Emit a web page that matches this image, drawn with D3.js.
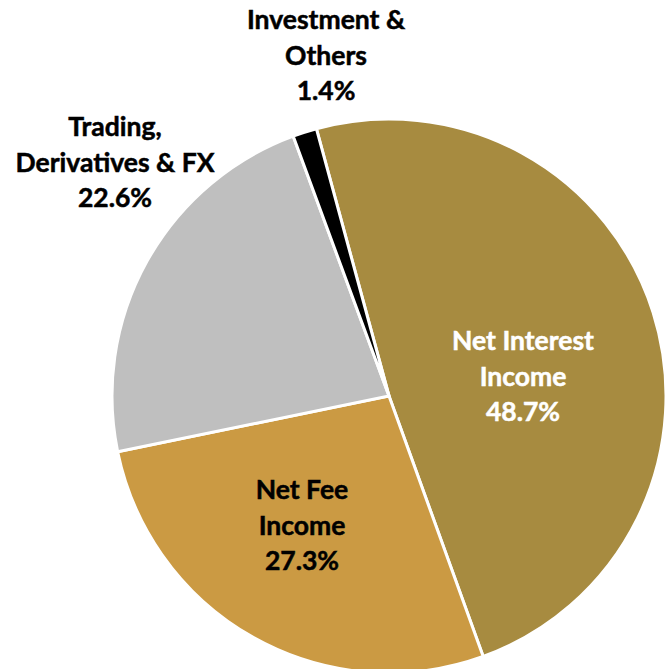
<!DOCTYPE html>
<html>
<head>
<meta charset="utf-8">
<script src="https://cdn.jsdelivr.net/npm/d3@7"></script>
<style>
  html, body { margin: 0; padding: 0; background: #ffffff; }
  svg { display: block; }
  text { font-family: Lato, "Open Sans", sans-serif; font-weight: 700; }
</style>
</head>
<body>
<svg id="chart" width="669" height="669"></svg>
<script>
// Revenue mix by source (share of total, %)
const categories = ["Net Interest Income", "Net Fee Income", "Trading, Derivatives & FX", "Investment & Others"];
const shares = [48.7, 27.3, 22.6, 1.4];
const colors = ["#A78B40", "#CB9A43", "#BFBFBF", "#000000"];
// Label text, one line per entry
const labelLines = [
  ["Net Interest", "Income", "48.7%"],
  ["Net Fee", "Income", "27.3%"],
  ["Trading,", "Derivatives & FX", "22.6%"],
  ["Investment &", "Others", "1.4%"]
];
const labelColors = ["#ffffff", "#000000", "#000000", "#000000"];

const width = 669, height = 669;
const cx = 389, cy = 396, radius = 277;

const svg = d3.select("#chart");
const g = svg.append("g").attr("transform", `translate(${cx},${cy})`);

const startAngle = -15.2 * Math.PI / 180;
const pie = d3.pie()
  .sort(null)
  .value(d => d)
  .startAngle(startAngle)
  .endAngle(startAngle + 2 * Math.PI);

const arcs = pie(shares);
const arc = d3.arc().innerRadius(0).outerRadius(radius);

g.selectAll("path.slice")
  .data(arcs)
  .join("path")
  .attr("class", "slice")
  .attr("d", arc)
  .attr("fill", (d, i) => colors[i])
  .attr("stroke", "#ffffff")
  .attr("stroke-width", 3)
  .attr("stroke-linejoin", "miter");

// Label anchors (first line centre), relative to the pie centre
const labelPos = [
  [523 - cx, 341 - cy],
  [302 - cx, 490 - cy],
  [115 - cx, 127 - cy],
  [326 - cx, 20 - cy]
];
const lineGap = 35.5;

arcs.forEach((d, i) => {
  const p = labelPos[i];
  const t = g.append("text")
    .attr("text-anchor", "middle")
    .attr("font-size", 26.5)
    .attr("fill", labelColors[i])
    .attr("stroke", labelColors[i])
    .attr("stroke-width", 0.5);
  labelLines[i].forEach((line, k) => {
    t.append("tspan")
      .attr("x", p[0])
      .attr("y", p[1] + k * lineGap)
      .attr("dy", "0.35em")
      .text(line);
  });
});
</script>
</body>
</html>
